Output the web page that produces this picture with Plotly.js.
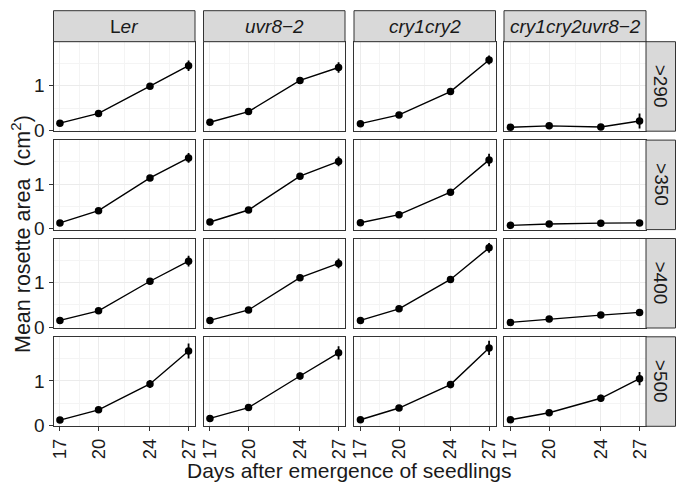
<!DOCTYPE html>
<html>
<head>
<meta charset="utf-8">
<script src="https://cdn.plot.ly/plotly-3.0.1.min.js"></script>
<style>
  html, body { margin: 0; padding: 0; background: #ffffff; }
  #chart { width: 676px; height: 483px; }
</style>
</head>
<body>
<div id="chart"></div>
<script>
// Days after emergence (x values shared by every panel)
const days = [17, 20, 24, 27];

// Facet labels
const genotypeLabels = ['L<i>er</i>', '<i>uvr8\u22122</i>', '<i>cry1cry2</i>', '<i>cry1cry2uvr8\u22122</i>'];
const filterLabels = ['>290', '>350', '>400', '>500'];

// Mean rosette area (cm²), one row per genotype: Ler, uvr8-2, cry1cry2, cry1cry2uvr8-2
const area290 = [
  [0.16, 0.38, 0.99, 1.45],
  [0.18, 0.42, 1.12, 1.41],
  [0.15, 0.345, 0.87, 1.58],
  [0.07, 0.10, 0.075, 0.21]
];
const area350 = [
  [0.13, 0.405, 1.14, 1.59],
  [0.15, 0.42, 1.18, 1.51],
  [0.135, 0.315, 0.82, 1.545],
  [0.075, 0.105, 0.125, 0.13]
];
const area400 = [
  [0.15, 0.365, 1.03, 1.48],
  [0.15, 0.385, 1.11, 1.43],
  [0.15, 0.41, 1.07, 1.78],
  [0.106, 0.18, 0.27, 0.33]
];
const area500 = [
  [0.12, 0.35, 0.93, 1.67],
  [0.157, 0.40, 1.11, 1.63],
  [0.128, 0.39, 0.917, 1.74],
  [0.128, 0.285, 0.61, 1.05]
];

// Standard errors for the same cells
const se290 = [
  [0.03, 0.03, 0.04, 0.12],
  [0.03, 0.03, 0.05, 0.12],
  [0.03, 0.03, 0.04, 0.10],
  [0.02, 0.02, 0.02, 0.17]
];
const se350 = [
  [0.03, 0.03, 0.05, 0.11],
  [0.03, 0.03, 0.05, 0.11],
  [0.03, 0.03, 0.05, 0.14],
  [0.02, 0.02, 0.02, 0.02]
];
const se400 = [
  [0.03, 0.03, 0.05, 0.12],
  [0.03, 0.03, 0.05, 0.11],
  [0.03, 0.03, 0.05, 0.11],
  [0.02, 0.02, 0.03, 0.03]
];
const se500 = [
  [0.03, 0.04, 0.09, 0.17],
  [0.03, 0.04, 0.08, 0.15],
  [0.03, 0.04, 0.08, 0.16],
  [0.03, 0.04, 0.08, 0.15]
];

const areas = [area290, area350, area400, area500];
const errors = [se290, se350, se400, se500];

// Panel geometry in pixels (figure is 676 x 483 with no outer margin)
const W = 676, H = 483;
const colPx = [[53.5, 195], [203.5, 345], [354, 495.5], [504, 646]];
const rowPx = [[41.7, 131.2], [140.1, 229.6], [238.5, 328], [336.8, 426.3]];
const stripTop = 10.7;
const stripRight = 675.5;

const fx = px => px / W;
const fy = px => 1 - px / H;

const FONT = 'Liberation Sans, Arial, Helvetica, sans-serif';
const INK = '#1a1a1a';
const BORDER = '#333333';

const traces = [];
const layout = {
  width: W,
  height: H,
  margin: { l: 0, r: 0, t: 0, b: 0 },
  paper_bgcolor: '#ffffff',
  plot_bgcolor: '#ffffff',
  showlegend: false,
  font: { family: FONT, color: INK },
  shapes: [],
  annotations: []
};

for (let r = 0; r < 4; r++) {
  for (let c = 0; c < 4; c++) {
    const k = r * 4 + c + 1;
    const xa = 'xaxis' + (k === 1 ? '' : k);
    const ya = 'yaxis' + (k === 1 ? '' : k);
    const xref = 'x' + (k === 1 ? '' : k);
    const yref = 'y' + (k === 1 ? '' : k);

    layout[xa] = {
      domain: [fx(colPx[c][0]), fx(colPx[c][1])],
      anchor: yref,
      range: [16.5, 27.5],
      tickmode: 'array',
      tickvals: days,
      ticktext: days.map(String),
      showticklabels: r === 3,
      ticks: r === 3 ? 'outside' : '',
      ticklen: 4,
      tickwidth: 1,
      tickcolor: BORDER,
      tickangle: -90,
      tickfont: { family: FONT, size: 18.5, color: INK },
      showgrid: true,
      gridcolor: '#EBEBEB',
      gridwidth: 1,
      minor: { tickvals: [18.5, 22, 25.5], showgrid: true, gridcolor: '#F4F4F4', gridwidth: 1, ticks: '' },
      zeroline: false,
      showline: true,
      mirror: true,
      linecolor: BORDER,
      linewidth: 1,
      fixedrange: true
    };
    layout[ya] = {
      domain: [fy(rowPx[r][1]), fy(rowPx[r][0])],
      anchor: xref,
      range: [-0.02, 1.99],
      tickmode: 'array',
      tickvals: [0, 1],
      ticktext: ['0', '1'],
      showticklabels: c === 0,
      ticks: c === 0 ? 'outside' : '',
      ticklen: 4,
      tickwidth: 1,
      tickcolor: BORDER,
      tickfont: { family: FONT, size: 19, color: INK },
      showgrid: true,
      gridcolor: '#EBEBEB',
      gridwidth: 1,
      minor: { tickvals: [0.5, 1.5], showgrid: true, gridcolor: '#F4F4F4', gridwidth: 1, ticks: '' },
      zeroline: false,
      showline: true,
      mirror: true,
      linecolor: BORDER,
      linewidth: 1,
      fixedrange: true
    };

    traces.push({
      type: 'scatter',
      mode: 'lines+markers',
      x: days,
      y: areas[r][c],
      xaxis: xref,
      yaxis: yref,
      line: { color: '#000000', width: 1.4 },
      marker: { color: '#000000', size: 7.5 },
      error_y: { type: 'data', array: errors[r][c], visible: true, color: '#000000', thickness: 1.8, width: 0 },
      hoverinfo: 'x+y'
    });
  }
}

// Column strips (genotype)
for (let c = 0; c < 4; c++) {
  layout.shapes.push({
    type: 'rect', xref: 'paper', yref: 'paper',
    x0: fx(colPx[c][0]), x1: fx(colPx[c][1]),
    y0: fy(rowPx[0][0]), y1: fy(stripTop),
    fillcolor: '#D9D9D9', line: { color: BORDER, width: 1 }, layer: 'above'
  });
  layout.annotations.push({
    xref: 'paper', yref: 'paper',
    x: fx((colPx[c][0] + colPx[c][1]) / 2),
    y: fy((stripTop + rowPx[0][0]) / 2),
    xanchor: 'center', yanchor: 'middle',
    text: genotypeLabels[c], showarrow: false,
    font: { family: FONT, size: 19, color: INK }
  });
}

// Row strips (filter cut-off)
for (let r = 0; r < 4; r++) {
  layout.shapes.push({
    type: 'rect', xref: 'paper', yref: 'paper',
    x0: fx(colPx[3][1]), x1: fx(stripRight),
    y0: fy(rowPx[r][1]), y1: fy(rowPx[r][0]),
    fillcolor: '#D9D9D9', line: { color: BORDER, width: 1 }, layer: 'above'
  });
  layout.annotations.push({
    xref: 'paper', yref: 'paper',
    x: fx((colPx[3][1] + stripRight) / 2),
    y: fy((rowPx[r][0] + rowPx[r][1]) / 2),
    xanchor: 'center', yanchor: 'middle',
    text: filterLabels[r], textangle: 90, showarrow: false,
    font: { family: FONT, size: 19, color: INK }
  });
}

// Shared axis titles
layout.annotations.push({
  xref: 'paper', yref: 'paper',
  x: fx((colPx[0][0] + colPx[3][1]) / 2), y: fy(470),
  xanchor: 'center', yanchor: 'middle',
  text: 'Days after emergence of seedlings', showarrow: false,
  font: { family: FONT, size: 21, color: INK }
});
layout.annotations.push({
  xref: 'paper', yref: 'paper',
  x: fx(21), y: fy((rowPx[0][0] + rowPx[3][1]) / 2),
  xanchor: 'center', yanchor: 'middle',
  text: 'Mean rosette area\u00a0 (cm<sup>2</sup>)', textangle: -90, showarrow: false,
  font: { family: FONT, size: 21.5, color: INK }
});

Plotly.newPlot('chart', traces, layout, { displayModeBar: false, staticPlot: true });
</script>
</body>
</html>
